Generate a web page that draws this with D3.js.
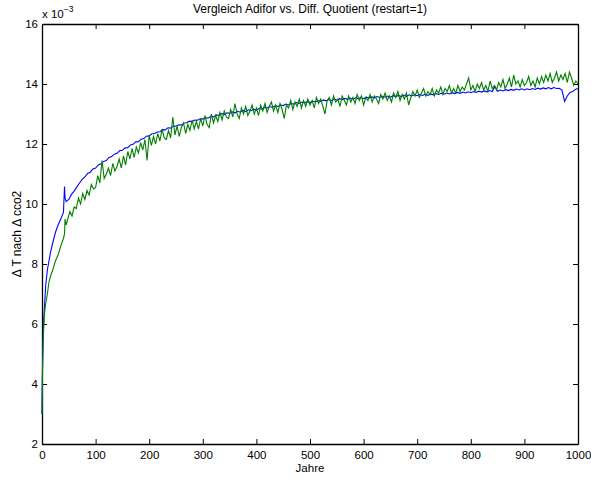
<!DOCTYPE html>
<html lang="de">
<head>
<meta charset="UTF-8">
<title>Vergleich Adifor vs. Diff. Quotient</title>
<script src="https://d3js.org/d3.v7.min.js"></script>
<style>
    body { margin: 0; background: #fff; }
    svg text { font-family: "Liberation Sans", Arial, Helvetica, sans-serif; fill: #000; }
</style>
</head>
<body>
<div id="chart"></div>
<script>
// all values in units of 1e-3
var earlyYears = [0, 1, 2, 3, 5, 7, 10, 13, 16, 20, 25, 30, 35, 40, 42, 43, 45];
var adiforEarly = [3.0, 4.6, 5.6, 6.1, 6.7, 7.3, 7.8, 8.1, 8.4, 8.7, 9.05, 9.3, 9.5, 9.72, 10.58, 10.2, 10.08];
var quotientEarly = [3.0, 4.5, 5.3, 5.8, 6.4, 6.7, 7.0, 7.4, 7.6, 7.8, 8.1, 8.3, 8.6, 8.85, 9.0, 9.5, 9.3];

// Adifor: every 5 years, 50 .. 1000
var adifor = [
    10.15, 10.32, 10.43, 10.57, 10.7, 10.82, 10.9, 11.02, 11.06, 11.17,
    11.2, 11.3, 11.34, 11.42, 11.45, 11.55, 11.58, 11.66, 11.69, 11.78,
    11.79, 11.87, 11.88, 11.97, 11.99, 12.07, 12.08, 12.16, 12.18, 12.26,
    12.27, 12.34, 12.35, 12.4, 12.41, 12.48, 12.47, 12.54, 12.53, 12.6,
    12.59, 12.64, 12.63, 12.7, 12.71, 12.76, 12.74, 12.8, 12.79, 12.84,
    12.83, 12.88, 12.86, 12.92, 12.9, 12.97, 12.95, 13.01, 12.98, 13.04,
    13.02, 13.07, 13.04, 13.09, 13.06, 13.12, 13.08, 13.14, 13.11, 13.16,
    13.13, 13.19, 13.16, 13.22, 13.2, 13.25, 13.22, 13.28, 13.25, 13.3,
    13.28, 13.33, 13.3, 13.35, 13.33, 13.38, 13.35, 13.4, 13.37, 13.42,
    13.38, 13.43, 13.4, 13.45, 13.42, 13.47, 13.44, 13.48, 13.45, 13.5,
    13.46, 13.51, 13.48, 13.52, 13.49, 13.53, 13.5, 13.54, 13.51, 13.55,
    13.51, 13.56, 13.53, 13.57, 13.54, 13.58, 13.55, 13.59, 13.56, 13.6,
    13.56, 13.61, 13.58, 13.62, 13.58, 13.63, 13.59, 13.64, 13.6, 13.64,
    13.61, 13.65, 13.62, 13.66, 13.62, 13.67, 13.64, 13.68, 13.65, 13.69,
    13.66, 13.7, 13.67, 13.71, 13.68, 13.72, 13.69, 13.73, 13.7, 13.74,
    13.71, 13.75, 13.72, 13.76, 13.73, 13.77, 13.74, 13.78, 13.75, 13.92,
    13.76, 13.8, 13.77, 13.81, 13.78, 13.82, 13.79, 13.83, 13.8, 13.84,
    13.8, 13.84, 13.81, 13.85, 13.82, 13.86, 13.83, 13.87, 13.84, 13.88,
    13.84, 13.88, 13.85, 13.86, 13.8, 13.42, 13.6, 13.72, 13.75, 13.82,
    13.85
];

// Diff. Quotient: every 4 years, 48 .. 1000
var quotient = [
    9.5, 9.75, 9.6, 9.9, 9.85, 10.2, 10.0, 10.35, 10.15, 10.45,
    10.3, 10.65, 10.5, 10.55, 10.95, 10.7, 11.45, 10.85, 11.0, 11.2,
    10.95, 11.35, 11.1, 11.25, 11.5, 11.2, 11.6, 11.3, 11.75, 11.5,
    11.85, 11.55, 11.9, 11.7, 12.05, 11.8, 12.15, 11.45, 12.3, 11.95,
    12.25, 12.0, 12.35, 12.1, 12.5, 12.2, 12.15, 12.45, 12.2, 12.9,
    12.3, 12.6, 12.25, 12.55, 12.7, 12.35, 12.65, 12.45, 12.8, 12.5,
    12.75, 12.5, 12.85, 12.6, 12.95, 12.65, 12.55, 13.0, 12.7, 12.95,
    12.75, 13.05, 12.8, 13.1, 12.9, 12.85, 13.15, 12.9, 13.35, 13.0,
    12.85, 13.2, 13.0, 13.25, 12.95, 13.1, 13.3, 13.0, 13.2, 12.95,
    13.3, 13.1, 13.35, 13.05, 13.25, 13.4, 13.1, 13.3, 13.05, 13.35,
    13.15, 12.85, 13.3, 13.2, 13.45, 13.15, 13.4, 13.25, 13.5, 13.2,
    13.45, 13.25, 13.5, 13.3, 13.45, 13.2, 13.55, 13.35, 13.5, 13.25,
    13.0, 13.45, 13.55, 13.3, 13.6, 13.4, 13.5, 13.25, 13.6, 13.45,
    13.3, 13.6, 13.4, 13.55, 13.35, 13.65, 13.45, 13.6, 13.3, 13.55,
    13.45, 13.65, 13.4, 13.6, 13.5, 13.35, 13.65, 13.5, 13.7, 13.45,
    13.6, 13.4, 13.7, 13.55, 13.75, 13.45, 13.65, 13.5, 13.7, 13.3,
    13.55, 13.75, 13.6, 13.8, 13.55, 13.7, 13.85, 13.6, 13.75, 13.65,
    13.85, 13.6, 13.8, 13.7, 13.9, 13.65, 13.85, 13.75, 13.95, 13.7,
    13.85, 13.7, 13.95, 13.75, 13.9, 13.8, 14.0, 14.2, 13.8, 13.95,
    13.75, 14.0, 13.85, 14.05, 13.8, 13.95, 13.75, 14.1, 13.85, 13.95,
    13.8, 14.05, 13.9, 14.15, 13.85, 14.0, 14.2, 13.9, 14.3, 14.0,
    14.1, 13.9, 14.15, 13.95, 14.05, 14.25, 13.95, 14.1, 13.9, 14.2,
    14.0, 14.25, 14.05, 14.3, 14.1, 14.35, 14.05, 14.2, 14.4, 14.1,
    14.3, 14.15, 14.35, 14.05, 14.4, 14.2, 13.95, 14.1, 14.0
];

var xTicks = [0, 100, 200, 300, 400, 500, 600, 700, 800, 900, 1000];
var yTicks = [2, 4, 6, 8, 10, 12, 14, 16];

var blueYears = earlyYears.concat(d3.range(50, 1001, 5));
var greenYears = earlyYears.concat(d3.range(48, 1001, 4));
var blueData = blueYears.map(function (yr, i) {
    return [yr, i < earlyYears.length ? adiforEarly[i] : adifor[i - earlyYears.length]];
});
var greenData = greenYears.map(function (yr, i) {
    return [yr, i < earlyYears.length ? quotientEarly[i] : quotient[i - earlyYears.length]];
});

var W = 591, H = 478;
var margin = {top: 24, right: 13, bottom: 34, left: 42};
var width = W - margin.left - margin.right,
    height = H - margin.top - margin.bottom;

var svg = d3.select("#chart").append("svg")
    .attr("width", W)
    .attr("height", H);

var g = svg.append("g")
    .attr("transform", "translate(" + margin.left + "," + margin.top + ")");

var x = d3.scaleLinear().domain([0, 1000]).range([0, width]);
var y = d3.scaleLinear().domain([2, 16]).range([height, 0]);

// box-style axes with inward ticks
g.append("g")
    .attr("transform", "translate(0," + height + ")")
    .call(d3.axisBottom(x).tickValues(xTicks).tickFormat(d3.format("d"))
        .tickSizeInner(-5).tickSizeOuter(0).tickPadding(7));
g.append("g")
    .call(d3.axisTop(x).tickValues(xTicks).tickSizeInner(-5).tickSizeOuter(0).tickFormat(""));
g.append("g")
    .call(d3.axisLeft(y).tickValues(yTicks).tickSizeInner(-5).tickSizeOuter(0).tickPadding(4));
g.append("g")
    .attr("transform", "translate(" + width + ",0)")
    .call(d3.axisRight(y).tickValues(yTicks).tickSizeInner(-5).tickSizeOuter(0).tickFormat(""));

g.selectAll(".domain").attr("stroke", "#000").attr("stroke-width", 1.3);
g.selectAll(".tick line").attr("stroke", "#000");
g.selectAll(".tick text").attr("font-size", 11.5).attr("font-family", "Liberation Sans, Arial, sans-serif");

var line = d3.line()
    .x(function (d) { return x(d[0]); })
    .y(function (d) { return y(d[1]); });

g.append("path")
    .datum(blueData)
    .attr("fill", "none")
    .attr("stroke", "#0000ff")
    .attr("stroke-width", 1.1)
    .attr("d", line);

g.append("path")
    .datum(greenData)
    .attr("fill", "none")
    .attr("stroke", "#008000")
    .attr("stroke-width", 1.1)
    .attr("d", line);

// title and labels
svg.append("text")
    .attr("x", margin.left + width / 2)
    .attr("y", 13)
    .attr("text-anchor", "middle")
    .attr("font-size", 12)
    .text("Vergleich Adifor vs. Diff. Quotient (restart=1)");

svg.append("text")
    .attr("x", margin.left + width / 2)
    .attr("y", 472)
    .attr("text-anchor", "middle")
    .attr("font-size", 11.5)
    .text("Jahre");

svg.append("text")
    .attr("transform", "translate(21," + (margin.top + height / 2) + ") rotate(-90)")
    .attr("text-anchor", "middle")
    .attr("font-size", 12)
    .text("\u0394 T nach \u0394 cco2");

var exp = svg.append("text")
    .attr("x", margin.left)
    .attr("y", 18)
    .attr("font-size", 11.5);
exp.append("tspan").text("x 10");
exp.append("tspan").attr("dy", -6).attr("font-size", 8.5).text("\u22123");
</script>
</body>
</html>
